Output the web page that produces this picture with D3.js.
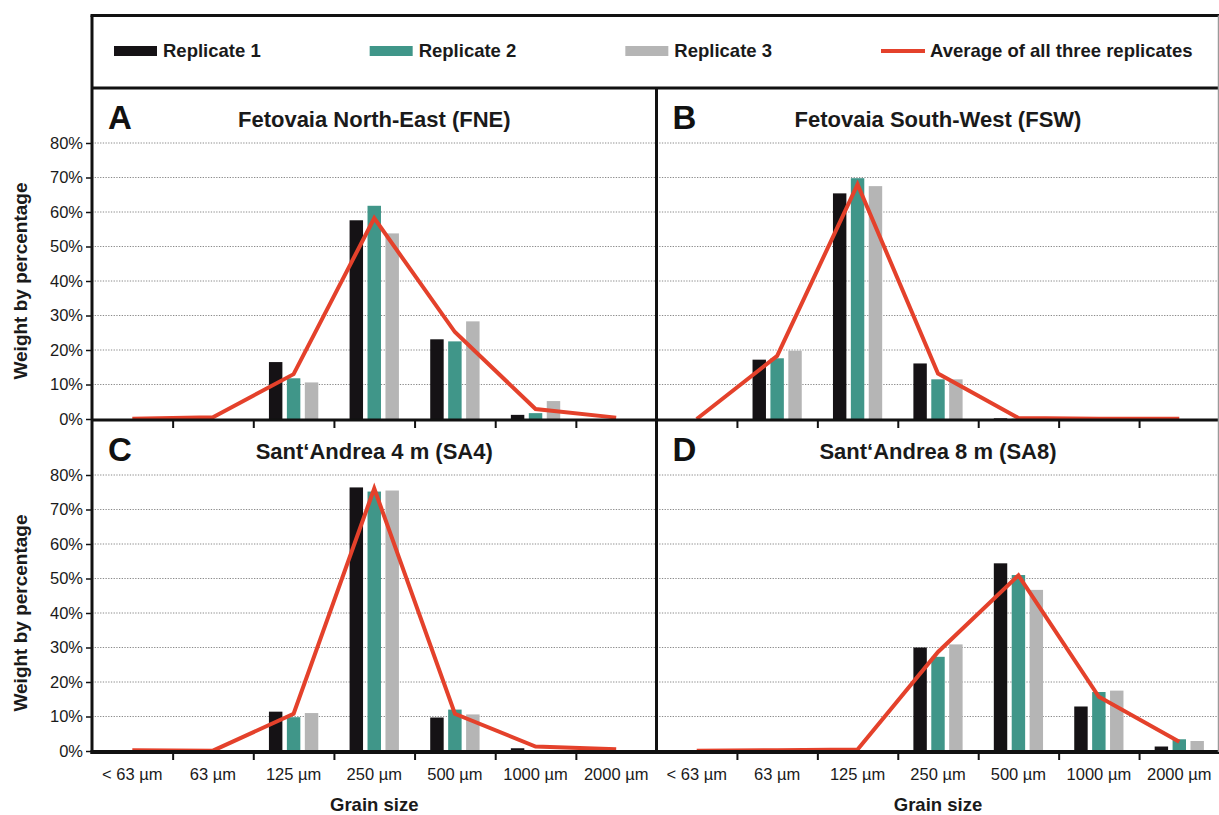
<!DOCTYPE html>
<html>
<head>
<meta charset="utf-8">
<script src="https://cdn.jsdelivr.net/npm/d3@7"></script>
<style>
  body { margin: 0; background: #fff; }
  svg { display: block; font-family: "Liberation Sans", Arial, sans-serif; }
</style>
</head>
<body>
<svg id="chart" width="1219" height="815"></svg>
<script>
// grain size classes shared by all four panels
const grainSizes = ['< 63 µm', '63 µm', '125 µm', '250 µm', '500 µm', '1000 µm', '2000 µm'];
const yTicks = [0, 10, 20, 30, 40, 50, 60, 70, 80];

const seriesNames = ['Replicate 1', 'Replicate 2', 'Replicate 3', 'Average of all three replicates'];
const panelLetters = ['A', 'B', 'C', 'D'];
const panelTitles = ['Fetovaia North-East (FNE)', 'Fetovaia South-West (FSW)', 'Sant‘Andrea 4 m (SA4)', 'Sant‘Andrea 8 m (SA8)'];

// weight percentages
const fneRep1 = [0, 0, 16.5, 57.6, 23.1, 1.2, 0];
const fneRep2 = [0, 0, 11.8, 61.8, 22.5, 1.7, 0];
const fneRep3 = [0, 0, 10.6, 53.8, 28.3, 5.2, 0];
const fneAvg  = [0.1, 0.5, 13.0, 58.2, 25.2, 2.9, 0.4];

const fswRep1 = [0, 17.2, 65.4, 16.1, 0.2, 0, 0];
const fswRep2 = [0, 17.6, 69.8, 11.5, 0.1, 0, 0];
const fswRep3 = [0, 19.8, 67.5, 11.5, 0.2, 0, 0];
const fswAvg  = [0, 18.3, 68.0, 13.2, 0.3, 0.1, 0.1];

const sa4Rep1 = [0, 0, 11.4, 76.4, 9.7, 0.8, 0];
const sa4Rep2 = [0, 0, 9.8, 75.2, 12.0, 0.2, 0];
const sa4Rep3 = [0, 0, 11.0, 75.5, 10.6, 0.2, 0];
const sa4Avg  = [0.2, 0.1, 10.8, 76.1, 10.8, 1.3, 0.5];

const sa8Rep1 = [0, 0, 0, 30.0, 54.4, 12.9, 1.3];
const sa8Rep2 = [0, 0, 0, 27.3, 51.0, 17.1, 3.4];
const sa8Rep3 = [0, 0, 0, 30.9, 46.7, 17.5, 2.9];
const sa8Avg  = [0.1, 0.2, 0.4, 28.7, 50.9, 15.7, 2.7];

const barColors = ['#151215', '#409689', '#b5b5b5'];
const lineColor = '#e4412b';

// frame geometry
const frameL = 92, frameM = 656.5, frameR = 1218.5;
const frameT = 15.5, legendB = 88, midY = 420, frameB = 752;

const panels = [
  { reps: [fneRep1, fneRep2, fneRep3], avg: fneAvg, x0: frameL, x1: frameM, top: legendB, bottom: midY, left: true, labels: false },
  { reps: [fswRep1, fswRep2, fswRep3], avg: fswAvg, x0: frameM, x1: frameR + 1, top: legendB, bottom: midY, left: false, labels: false },
  { reps: [sa4Rep1, sa4Rep2, sa4Rep3], avg: sa4Avg, x0: frameL, x1: frameM, top: midY, bottom: frameB, left: true, labels: true },
  { reps: [sa8Rep1, sa8Rep2, sa8Rep3], avg: sa8Avg, x0: frameM, x1: frameR + 1, top: midY, bottom: frameB, left: false, labels: true }
];

const svg = d3.select('#chart');
svg.append('rect').attr('width', 1219).attr('height', 815).attr('fill', '#fff');

panels.forEach(drawPanel);

function drawPanel(p, i) {
  const g = svg.append('g');
  const x = d3.scaleBand().domain(grainSizes).range([p.x0, p.x1]);
  const bw = x.bandwidth();
  const xInner = d3.scaleBand().domain([0, 1, 2])
    .range([bw * 0.194, bw * 0.806]).paddingInner(0.25);
  const y = d3.scaleLinear().domain([0, 80]).range([p.bottom - 1, p.top + 55]);

  // dotted grid
  g.selectAll('line.grid')
    .data(yTicks.slice(1))
    .enter()
    .append('line')
    .attr('x1', p.x0).attr('x2', p.x1)
    .attr('y1', d => y(d)).attr('y2', d => y(d))
    .attr('stroke', '#8a8a8a')
    .attr('stroke-width', 1)
    .attr('stroke-dasharray', '1.3,1.4');

  // bars
  g.selectAll('g.grp')
    .data(grainSizes)
    .enter()
    .append('g')
    .attr('transform', d => `translate(${x(d)},0)`)
    .selectAll('rect')
    .data((d, j) => p.reps.map((r, k) => ({ k: k, v: r[j] })))
    .enter()
    .append('rect')
    .attr('x', d => xInner(d.k))
    .attr('width', xInner.bandwidth())
    .attr('y', d => y(d.v))
    .attr('height', d => y(0) - y(d.v))
    .attr('fill', d => barColors[d.k]);

  // average line
  const line = d3.line()
    .x((d, j) => x(grainSizes[j]) + bw / 2)
    .y(d => y(d));
  g.append('path')
    .datum(p.avg)
    .attr('d', line)
    .attr('fill', 'none')
    .attr('stroke', lineColor)
    .attr('stroke-width', 4)
    .attr('stroke-linejoin', 'miter');

  // y axis on the left panels
  if (p.left) {
    const ay = g.append('g')
      .attr('transform', `translate(${frameL},0)`)
      .call(d3.axisLeft(y).tickValues(yTicks).tickSize(6).tickPadding(3).tickFormat(d => d + '%'));
    ay.select('.domain').remove();
    ay.selectAll('line').attr('stroke', '#111').attr('stroke-width', 1.5);
    ay.selectAll('text').attr('font-size', 16.5).attr('fill', '#1a1a1a');
    g.append('text')
      .attr('transform', `translate(27,${(y(0) + y(80)) / 2}) rotate(-90)`)
      .attr('text-anchor', 'middle')
      .attr('font-size', 19)
      .attr('font-weight', 'bold')
      .attr('fill', '#1a1a1a')
      .text('Weight by percentage');
  }

  // boundary ticks along the bottom edge
  const tickScale = d3.scaleLinear().domain([0, grainSizes.length]).range([p.x0, p.x1]);
  const ax = g.append('g')
    .attr('transform', `translate(0,${p.bottom})`)
    .call(d3.axisBottom(tickScale).tickValues(d3.range(1, grainSizes.length)).tickSize(8).tickFormat(''));
  ax.select('.domain').remove();
  ax.selectAll('line').attr('stroke', '#111').attr('stroke-width', 2);

  if (p.labels) {
    const al = g.append('g')
      .attr('transform', `translate(0,${p.bottom})`)
      .call(d3.axisBottom(x).tickSize(0).tickPadding(16));
    al.select('.domain').remove();
    al.selectAll('text').attr('font-size', 16.5).attr('fill', '#1a1a1a');
    g.append('text')
      .attr('x', (p.x0 + p.x1) / 2)
      .attr('y', 811)
      .attr('text-anchor', 'middle')
      .attr('font-size', 18.5)
      .attr('font-weight', 'bold')
      .attr('fill', '#1a1a1a')
      .text('Grain size');
  }

  g.append('text')
    .attr('x', p.x0 + 16)
    .attr('y', p.top + 41)
    .attr('font-size', 33)
    .attr('font-weight', 'bold')
    .attr('fill', '#111')
    .text(panelLetters[i]);

  g.append('text')
    .attr('x', (p.x0 + p.x1) / 2)
    .attr('y', p.top + 39)
    .attr('text-anchor', 'middle')
    .attr('font-size', 22)
    .attr('font-weight', 'bold')
    .attr('fill', '#1a1a1a')
    .text(panelTitles[i]);
}

// legend
const legend = svg.append('g');
const legendX = d3.scaleLinear().domain([0, 3]).range([114, 881]);
seriesNames.forEach((name, k) => {
  const lx = legendX(k);
  if (k < 3) {
    legend.append('rect')
      .attr('x', lx).attr('y', 46)
      .attr('width', 43).attr('height', 10)
      .attr('fill', barColors[k]);
  } else {
    legend.append('line')
      .attr('x1', lx).attr('x2', lx + 44)
      .attr('y1', 51).attr('y2', 51)
      .attr('stroke', lineColor)
      .attr('stroke-width', 4);
  }
  legend.append('text')
    .attr('x', lx + 49)
    .attr('y', 57)
    .attr('font-size', 18.5)
    .attr('font-weight', 'bold')
    .attr('fill', '#1a1a1a')
    .text(name);
});

// frame lines
const frame = svg.append('g').attr('stroke', '#111').attr('stroke-width', 3);
[
  [frameL - 1.5, frameT, 1219, frameT],
  [frameL, frameT, frameL, frameB + 2],
  [frameL, legendB, 1219, legendB],
  [frameM, legendB, frameM, frameB + 2],
  [frameL, midY, 1219, midY]
].forEach(l => frame.append('line').attr('x1', l[0]).attr('y1', l[1]).attr('x2', l[2]).attr('y2', l[3]));
frame.append('line')
  .attr('x1', frameL - 1.5).attr('x2', 1219)
  .attr('y1', frameB).attr('y2', frameB)
  .attr('stroke-width', 4);
svg.append('line')
  .attr('x1', frameR).attr('x2', frameR)
  .attr('y1', frameT).attr('y2', frameB)
  .attr('stroke', '#9a9a9a')
  .attr('stroke-width', 1.5);
</script>
</body>
</html>
